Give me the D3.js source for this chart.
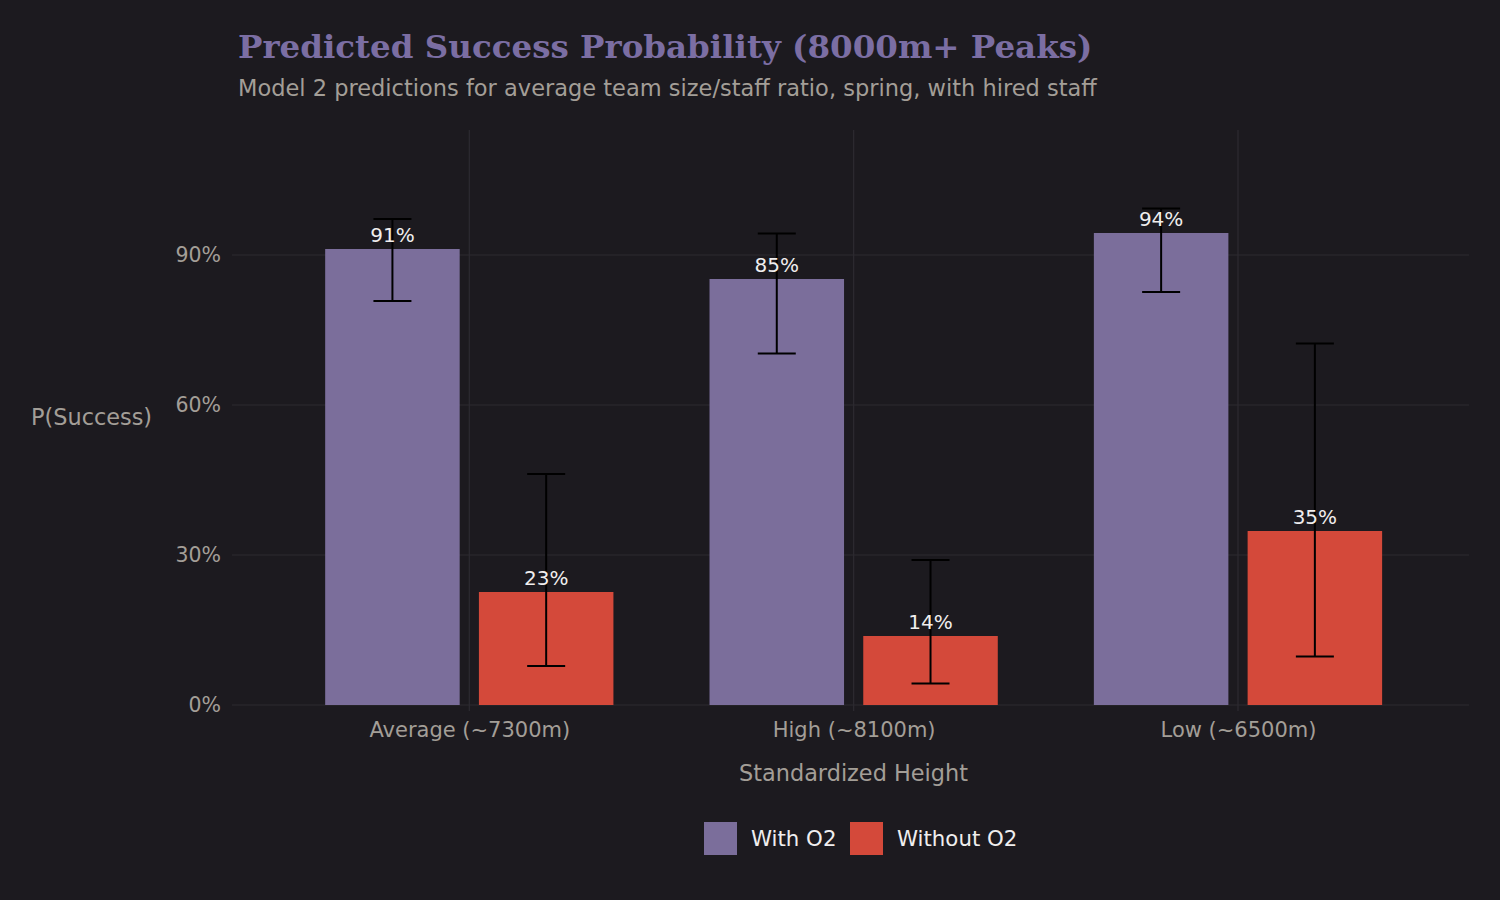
<!DOCTYPE html>
<html>
<head>
<meta charset="utf-8">
<script src="https://cdn.jsdelivr.net/npm/d3@7"></script>
<style>
  html, body { margin: 0; padding: 0; background: #1c1a1f; }
  svg { display: block; }
</style>
</head>
<body>
<svg id="chart" width="1500" height="900"></svg>
<script>
// ---- Data ----
const categories = ["Average (~7300m)", "High (~8100m)", "Low (~6500m)"];
const seriesNames = ["With O2", "Without O2"];
const withO2 = [0.912, 0.852, 0.944];
const withO2Lower = [0.808, 0.703, 0.826];
const withO2Upper = [0.972, 0.943, 0.993];
const withoutO2 = [0.226, 0.138, 0.348];
const withoutO2Lower = [0.078, 0.043, 0.097];
const withoutO2Upper = [0.462, 0.290, 0.723];
const yTicks = [0, 0.3, 0.6, 0.9];
const titleText = "Predicted Success Probability (8000m+ Peaks)";
const subtitleText = "Model 2 predictions for average team size/staff ratio, spring, with hired staff";
const xTitle = "Standardized Height";
const yTitle = "P(Success)";

// ---- Build rows ----
const rows = [];
categories.forEach((c, i) => {
  rows.push({cat: c, series: seriesNames[0], value: withO2[i], lo: withO2Lower[i], hi: withO2Upper[i]});
  rows.push({cat: c, series: seriesNames[1], value: withoutO2[i], lo: withoutO2Lower[i], hi: withoutO2Upper[i]});
});

const colors = {"With O2": "#7b6e9b", "Without O2": "#d4493a"};
const bg = "#1c1a1f";
const gridColor = "#2d2b31";
const textGrey = "#a39e97";

const svg = d3.select("#chart");
svg.append("rect").attr("width", 1500).attr("height", 900).attr("fill", bg);

const panel = {left: 232, right: 1469, top: 130, bottom: 711};

const x = d3.scalePoint().domain(categories).range([469.3, 1238]);
const step = x.step();
const barW = step * 0.35;
const dodge = d3.scaleOrdinal().domain(seriesNames).range([-step * 0.2, step * 0.2]);
const y = d3.scaleLinear().domain([0, 1.15]).range([705, 130]);

// Grid
const g = svg.append("g");
g.selectAll("line.hgrid").data(yTicks).join("line")
  .attr("x1", panel.left).attr("x2", panel.right)
  .attr("y1", d => y(d)).attr("y2", d => y(d))
  .attr("stroke", gridColor).attr("stroke-width", 1.2);
g.selectAll("line.vgrid").data(categories).join("line")
  .attr("x1", d => x(d)).attr("x2", d => x(d))
  .attr("y1", panel.top).attr("y2", panel.bottom)
  .attr("stroke", gridColor).attr("stroke-width", 1.2);

// Y axis labels
const yAxis = d3.axisLeft(y).tickValues(yTicks).tickFormat(d3.format(".0%")).tickSize(0).tickPadding(11);
const ya = svg.append("g").attr("transform", `translate(${panel.left},0)`).call(yAxis);
ya.select(".domain").remove();
ya.selectAll("text").attr("fill", textGrey).attr("font-family", "DejaVu Sans").attr("font-size", 20.5);

// X axis labels
const xAxis = d3.axisBottom(x).tickSize(0).tickPadding(17);
const xa = svg.append("g").attr("transform", `translate(0,705)`).call(xAxis);
xa.select(".domain").remove();
xa.selectAll("text").attr("fill", textGrey).attr("font-family", "DejaVu Sans").attr("font-size", 21);

// Bars
svg.append("g").selectAll("rect").data(rows).join("rect")
  .attr("x", d => x(d.cat) + dodge(d.series) - barW / 2)
  .attr("width", barW)
  .attr("y", d => y(d.value))
  .attr("height", d => y(0) - y(d.value))
  .attr("fill", d => colors[d.series]);

// Error bars
const eb = svg.append("g").attr("stroke", "#000").attr("stroke-width", 2);
rows.forEach(d => {
  const cx = x(d.cat) + dodge(d.series);
  eb.append("line").attr("x1", cx).attr("x2", cx).attr("y1", y(d.lo)).attr("y2", y(d.hi));
  eb.append("line").attr("x1", cx - 19).attr("x2", cx + 19).attr("y1", y(d.lo)).attr("y2", y(d.lo));
  eb.append("line").attr("x1", cx - 19).attr("x2", cx + 19).attr("y1", y(d.hi)).attr("y2", y(d.hi));
});

// Value labels
svg.append("g").selectAll("text").data(rows).join("text")
  .attr("x", d => x(d.cat) + dodge(d.series))
  .attr("y", d => y(d.value) - 7.5)
  .attr("text-anchor", "middle")
  .attr("fill", "#f0eeee")
  .attr("font-family", "DejaVu Sans")
  .attr("font-size", 20)
  .text(d => d3.format(".0%")(d.value));

// Titles
svg.append("text").attr("x", 238).attr("y", 58)
  .attr("font-family", "DejaVu Serif").attr("font-weight", "bold")
  .attr("font-size", 32.5).attr("fill", "#7b6ea3").text(titleText);
svg.append("text").attr("x", 238).attr("y", 96)
  .attr("font-family", "DejaVu Sans")
  .attr("font-size", 22.5).attr("fill", textGrey).text(subtitleText);

svg.append("text").attr("x", 31).attr("y", 425)
  .attr("font-family", "DejaVu Sans").attr("font-size", 22.4).attr("fill", textGrey).text(yTitle);
svg.append("text").attr("x", 853.5).attr("y", 781)
  .attr("text-anchor", "middle")
  .attr("font-family", "DejaVu Sans").attr("font-size", 22.4).attr("fill", textGrey).text(xTitle);

// Legend
const legendX = [704, 850];
const lg = svg.append("g");
seriesNames.forEach((s, i) => {
  lg.append("rect").attr("x", legendX[i]).attr("y", 822).attr("width", 33).attr("height", 33).attr("fill", colors[s]);
  lg.append("text").attr("x", legendX[i] + 47).attr("y", 846)
    .attr("font-family", "DejaVu Sans").attr("font-size", 21.3).attr("fill", "#f0eeee").text(s);
});
</script>
</body>
</html>
